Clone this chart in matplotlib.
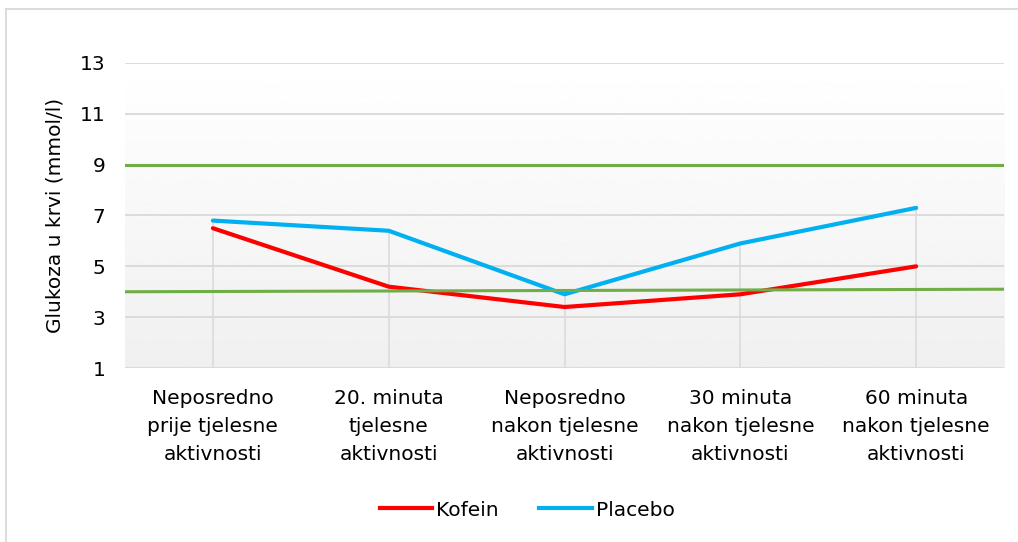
import numpy as np
import matplotlib
matplotlib.use('Agg')
import matplotlib.pyplot as plt
from matplotlib.lines import Line2D

# podaci
kategorije = ['Neposredno\nprije tjelesne\naktivnosti',
              '20. minuta\ntjelesne\naktivnosti',
              'Neposredno\nnakon tjelesne\naktivnosti',
              '30 minuta\nnakon tjelesne\naktivnosti',
              '60 minuta\nnakon tjelesne\naktivnosti']
kofein = [6.5, 4.2, 3.4, 3.9, 5.0]
placebo = [6.8, 6.4, 3.9, 5.9, 7.3]
gornja_granica = [9.0, 9.0]
donja_granica = [4.0, 4.1]
y_ticks = [1, 3, 5, 7, 9, 11, 13]

plt.rcParams['font.family'] = ['DejaVu Sans']
fs = 14.5

fig = plt.figure(figsize=(10.18, 5.42), dpi=100)
ax = fig.add_axes([0.1228, 0.321, 0.8635, 0.5628])

x = np.arange(len(kategorije))
x_lim = (-0.5, len(kategorije) - 0.5)

# gradijent pozadine
grad = np.linspace(1.0, 0.94, 256).reshape(-1, 1)
ax.imshow(grad, cmap='gray', vmin=0, vmax=1, aspect='auto',
          extent=(x_lim[0], x_lim[1], 1, 13), zorder=0)

# horizontalna mreža
for t in y_ticks:
    ax.axhline(t, color='#D9D9D9', lw=1.3, zorder=1)

# okomite linije do najviše točke
ax.vlines(x, 1, np.maximum(kofein, placebo), color='#D9D9D9', lw=1.1, zorder=1)

# granice
ax.plot(x_lim, gornja_granica, color='#70AD47', lw=2.2, zorder=2)
ax.plot(x_lim, donja_granica, color='#70AD47', lw=2.2, zorder=4)

ax.plot(x, kofein, color='#FF0000', lw=3, zorder=3, solid_capstyle='round')
ax.plot(x, placebo, color='#00B0F0', lw=3, zorder=3, solid_capstyle='round')

ax.set_xlim(*x_lim)
ax.set_ylim(1, 13)
ax.set_yticks(y_ticks)
ax.set_xticks(x)
ax.set_xticklabels(kategorije, fontsize=fs, linespacing=1.62)
ax.tick_params(axis='y', length=0, pad=14, labelsize=fs)
ax.tick_params(axis='x', length=0, pad=15)
for s in ax.spines.values():
    s.set_visible(False)

fig.text(0.054, 0.602, 'Glukoza u krvi (mmol/l)', rotation=90,
         ha='center', va='center', fontsize=fs)

# legenda
handles = [Line2D([], [], color='#FF0000', lw=3),
           Line2D([], [], color='#00B0F0', lw=3)]
fig.legend(handles, ['Kofein', 'Placebo'], loc='center',
           bbox_to_anchor=(0.518, 0.059), ncol=2, frameon=False,
           fontsize=fs, handlelength=2.6, handletextpad=0.2,
           columnspacing=2.0)

# okvir
fig.add_artist(Line2D([6 / 1018, 1], [1 - 9 / 542, 1 - 9 / 542],
                      color='#D9D9D9', lw=1.3, transform=fig.transFigure))
fig.add_artist(Line2D([6 / 1018, 6 / 1018], [0, 1 - 9 / 542],
                      color='#D9D9D9', lw=1.3, transform=fig.transFigure))

fig.savefig('out.png', dpi=100)
